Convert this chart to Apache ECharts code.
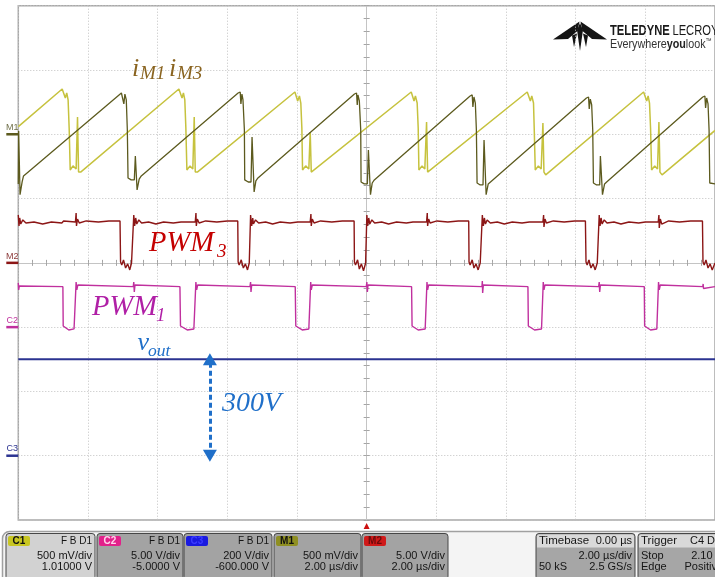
<!DOCTYPE html>
<html>
<head>
<meta charset="utf-8">
<title>Interleaved converter waveforms</title>
<script src="https://cdn.jsdelivr.net/npm/echarts@6/dist/echarts.min.js"></script>
<style>
  html, body { margin: 0; padding: 0; background: #ffffff; }
  #chart { width: 715px; height: 577px; }
</style>
</head>
<body>
<div id="chart"></div>
<script>
// ---- time base: 2 µs/div, 10 divisions, trigger at 0 µs ----
const timeRange = [-10, 10];
const timeDiv = 2;
const divisionsY = 4; // screen spans -4 ... +4 divisions

// ---- channel settings: volts per division, ground position in divisions ----
const chanCurrent = { scale: 0.5, ground: 2 };   // C1 / M1 : 500 mV/div
const chanPwm3 = { scale: 5, ground: 0 };        // M2 : 5 V/div
const chanPwm1 = { scale: 5, ground: -1 };       // C2 : 5 V/div, offset -5 V
const chanVout = { scale: 200, ground: -3 };     // C3 : 200 V/div, offset -600 V

// ---- iM1 current (C1), [µs, V] ----
const iM1 = [
  [-10.0, 0.06],
  [-8.74, 0.352], [-8.70, 0.360], [-8.65, 0.282], [-8.61, 0.321], [-8.57, 0.267], [-8.54, 0.049], [-8.51, -0.278], [-8.43, -0.246], [-8.34, -0.270], [-8.30, 0.135], [-8.27, -0.294], [-8.21, -0.294],
  [-5.39, 0.352], [-5.34, 0.360], [-5.30, 0.282], [-5.26, 0.321], [-5.22, 0.267], [-5.19, 0.049], [-5.16, -0.278], [-5.07, -0.246], [-4.99, -0.270], [-4.95, 0.135], [-4.92, -0.294], [-4.86, -0.294],
  [-2.06, 0.329], [-2.02, 0.337], [-1.98, 0.259], [-1.93, 0.298], [-1.89, 0.243], [-1.86, 0.049], [-1.84, -0.278], [-1.75, -0.246], [-1.66, -0.270], [-1.62, 0.018], [-1.59, -0.294], [-1.54, -0.301],
  [1.28, 0.329], [1.32, 0.337], [1.36, 0.259], [1.40, 0.298], [1.45, 0.243], [1.48, 0.049], [1.50, -0.278], [1.59, -0.246], [1.67, -0.270], [1.72, 0.096], [1.75, -0.294], [1.80, -0.301],
  [4.61, 0.329], [4.66, 0.337], [4.70, 0.259], [4.74, 0.298], [4.79, 0.243], [4.81, 0.049], [4.84, -0.278], [4.93, -0.246], [5.01, -0.270], [5.06, 0.088], [5.09, -0.294], [5.14, -0.316],
  [7.95, 0.329], [8.00, 0.337], [8.04, 0.259], [8.08, 0.298], [8.12, 0.243], [8.15, 0.049], [8.18, -0.278], [8.27, -0.246], [8.35, -0.270], [8.39, 0.096], [8.42, -0.294], [8.48, -0.316],
  [10.0, 0.03]
];

// ---- iM3 current (M1), [µs, V] ----
const iM3 = [
  [-10.0, -0.386], [-9.99, 0.026], [-9.95, -0.470], [-9.89, -0.370], [-9.85, -0.324],
  [-7.04, 0.321], [-6.99, 0.329], [-6.97, 0.236], [-6.94, 0.313], [-6.90, 0.267], [-6.87, 0.033], [-6.85, -0.340], [-6.76, -0.355], [-6.67, -0.355], [-6.64, -0.169], [-6.59, -0.433], [-6.53, -0.348], [-6.47, -0.324],
  [-3.69, 0.321], [-3.63, 0.329], [-3.61, 0.236], [-3.58, 0.313], [-3.55, 0.267], [-3.51, 0.033], [-3.50, -0.355], [-3.40, -0.371], [-3.32, -0.371], [-3.29, -0.021], [-3.23, -0.449], [-3.18, -0.363], [-3.12, -0.340],
  [-0.35, 0.313], [-0.29, 0.321], [-0.27, 0.228], [-0.25, 0.306], [-0.21, 0.259], [-0.17, 0.033], [-0.16, -0.371], [-0.07, -0.386], [0.02, -0.386], [0.05, -0.123], [0.11, -0.470], [0.16, -0.379], [0.22, -0.355],
  [2.97, 0.298], [3.03, 0.306], [3.05, 0.212], [3.08, 0.290], [3.12, 0.243], [3.15, 0.033], [3.17, -0.379], [3.26, -0.394], [3.34, -0.394], [3.37, -0.044], [3.43, -0.470], [3.49, -0.386], [3.54, -0.371],
  [6.31, 0.282], [6.37, 0.290], [6.39, 0.197], [6.42, 0.274], [6.46, 0.228], [6.49, 0.033], [6.51, -0.379], [6.60, -0.394], [6.69, -0.394], [6.71, -0.169], [6.77, -0.470], [6.83, -0.386], [6.89, -0.371],
  [9.65, 0.290], [9.71, 0.298], [9.73, 0.205], [9.76, 0.282], [9.80, 0.236], [9.83, 0.033], [9.85, -0.379], [10.0, -0.386]
];

// ---- PWM3 gate signal (M2), [µs, V] ----
const pwm3 = [
  [-10.0, 3.72], [-9.98, 2.87], [-9.96, 3.49], [-9.93, 3.02], [-9.87, 3.34], [-9.78, 3.10], [-9.55, 3.18], [-9.30, 3.02], [-9.05, 3.18], [-8.75, 3.10], [-8.70, 3.26], [-8.36, 3.18],
  [-8.34, 3.88], [-8.33, 2.87], [-8.30, 3.41], [-8.25, 3.10], [-8.05, 3.26], [-7.70, 3.18], [-7.40, 3.26], [-7.08, 3.26],
  [-7.064, 0.07], [-7.03, -0.16], [-6.98, 0.23], [-6.92, -0.40], [-6.86, -0.08], [-6.80, -0.55], [-6.75, -0.01], [-6.70, 0.07],
  [-6.685, 3.72], [-6.66, 2.87], [-6.63, 3.49], [-6.60, 3.02], [-6.54, 3.34], [-6.46, 3.10], [-6.26, 3.18], [-6.05, 3.02], [-5.83, 3.18], [-5.55, 3.10], [-5.33, 3.18], [-4.92, 3.18],
  [-4.90, 3.88], [-4.89, 2.87], [-4.86, 3.41], [-4.81, 3.10], [-4.62, 3.26], [-4.30, 3.18], [-4.00, 3.26], [-3.70, 3.26],
  [-3.689, 0.07], [-3.66, -0.16], [-3.60, 0.23], [-3.54, -0.40], [-3.48, -0.08], [-3.42, -0.55], [-3.37, -0.01], [-3.34, 0.07],
  [-3.332, 3.72], [-3.30, 2.87], [-3.27, 3.49], [-3.25, 3.02], [-3.19, 3.34], [-3.10, 3.10], [-2.90, 3.18], [-2.70, 3.02], [-2.48, 3.18], [-2.20, 3.10], [-1.98, 3.18], [-1.62, 3.18],
  [-1.60, 3.80], [-1.59, 2.87], [-1.56, 3.41], [-1.51, 3.10], [-1.32, 3.26], [-1.00, 3.18], [-0.70, 3.26], [-0.36, 3.26],
  [-0.351, 0.07], [-0.32, -0.16], [-0.26, 0.23], [-0.21, -0.48], [-0.15, -0.08], [-0.09, -0.62], [-0.03, -0.01], [-0.01, 0.07],
  [0.006, 3.72], [0.03, 2.87], [0.06, 3.49], [0.09, 3.02], [0.15, 3.34], [0.23, 3.10], [0.43, 3.18], [0.63, 3.02], [0.86, 3.18], [1.14, 3.10], [1.33, 3.18], [1.72, 3.18],
  [1.74, 3.88], [1.75, 2.87], [1.78, 3.41], [1.82, 3.10], [2.02, 3.26], [2.33, 3.18], [2.63, 3.26], [2.93, 3.26],
  [2.939, 0.07], [2.97, -0.16], [3.03, 0.23], [3.08, -0.40], [3.14, -0.08], [3.20, -0.55], [3.26, -0.01], [3.30, 0.07],
  [3.321, 3.72], [3.35, 2.87], [3.38, 3.49], [3.41, 3.02], [3.46, 3.34], [3.55, 3.10], [3.75, 3.18], [3.95, 3.02], [4.18, 3.18], [4.46, 3.10], [4.67, 3.18], [5.06, 3.18],
  [5.08, 3.72], [5.09, 2.79], [5.12, 3.41], [5.16, 3.10], [5.36, 3.26], [5.67, 3.18], [5.97, 3.26], [6.28, 3.26],
  [6.297, 0.07], [6.33, -0.16], [6.38, 0.23], [6.44, -0.40], [6.50, -0.08], [6.56, -0.55], [6.62, -0.01], [6.65, 0.07],
  [6.676, 3.72], [6.70, 2.87], [6.73, 3.49], [6.76, 3.02], [6.82, 3.34], [6.90, 3.10], [7.10, 3.18], [7.30, 3.02], [7.53, 3.18], [7.81, 3.10], [8.00, 3.18], [8.37, 3.18],
  [8.39, 3.72], [8.40, 2.71], [8.43, 3.41], [8.47, 3.02], [8.67, 3.26], [8.98, 3.18], [9.30, 3.26], [9.64, 3.26],
  [9.655, 0.07], [9.69, -0.16], [9.74, 0.23], [9.80, -0.40], [9.86, -0.08], [9.92, -0.55], [10.0, -0.01]
];

// ---- PWM1 gate signal (C2), [µs, V] ----
const pwm1 = [
  [-10.0, 3.44], [-9.99, 2.89], [-9.97, 3.20], [-9.93, 3.15],
  [-8.72, 3.15], [-8.711, 0.09], [-8.67, 0.02], [-8.55, -0.22], [-8.40, -0.14], [-8.35, 0.0], [-8.340, 3.51], [-8.32, 2.89], [-8.29, 3.28], [-8.24, 3.15],
  [-6.70, 3.15], [-6.685, 3.51], [-6.67, 2.74], [-6.65, 3.28], [-6.62, 3.15],
  [-5.36, 3.15], [-5.344, 0.09], [-5.30, 0.02], [-5.15, -0.22], [-4.96, -0.14], [-4.91, 0.0], [-4.902, 3.51], [-4.88, 2.89], [-4.85, 3.28], [-4.80, 3.15],
  [-3.35, 3.15], [-3.332, 3.51], [-3.32, 2.74], [-3.30, 3.28], [-3.27, 3.15],
  [-2.05, 3.15], [-2.034, 0.09], [-1.99, 0.02], [-1.85, -0.22], [-1.66, -0.14], [-1.61, 0.0], [-1.606, 3.51], [-1.59, 2.89], [-1.56, 3.28], [-1.51, 3.15],
  [-0.01, 3.15], [0.006, 3.51], [0.02, 2.74], [0.04, 3.28], [0.07, 3.15],
  [1.29, 3.15], [1.304, 0.09], [1.35, 0.02], [1.48, -0.22], [1.68, -0.14], [1.72, 0.0], [1.732, 3.51], [1.75, 2.89], [1.78, 3.28], [1.83, 3.15],
  [3.31, 3.15], [3.321, 3.59], [3.33, 2.66], [3.35, 3.28], [3.38, 3.15],
  [4.63, 3.15], [4.642, 0.09], [4.69, 0.02], [4.82, -0.22], [5.02, -0.14], [5.06, 0.0], [5.070, 3.51], [5.09, 2.89], [5.12, 3.28], [5.17, 3.15],
  [6.66, 3.15], [6.676, 3.51], [6.69, 2.74], [6.71, 3.28], [6.74, 3.15],
  [7.97, 3.15], [7.980, 0.09], [8.03, 0.02], [8.15, -0.22], [8.33, -0.14], [8.37, 0.0], [8.379, 3.51], [8.40, 2.89], [8.43, 3.28], [8.48, 3.15],
  [9.65, 3.15], [9.66, 3.36], [9.67, 3.00], [9.70, 3.15], [10.0, 3.15]
];

// ---- output voltage (C3), [µs, V] ----
const voutLevel = 300;
const vout = [[-10.0, 300], [10.0, 300]];
const arrowTime = -4.5; // where the 0 V → vout span is marked

// ---- colours ----
const colLight = '#c6c23e';
const colDark = '#5c5a1e';
const colPwm3 = '#8c1616';
const colPwm1 = '#c0309e';
const colVout = '#2b3391';

function chanAxis(ch) {
  return {
    type: 'value', show: false,
    min: (-divisionsY - ch.ground) * ch.scale,
    max: (divisionsY - ch.ground) * ch.scale,
    axisLine: { onZero: false }
  };
}

const centreLine = { show: true, onZero: true, onZeroAxisIndex: 0, lineStyle: { color: '#c4c4c4', width: 1 } };
const centreTick = { show: true, length: 3, inside: false, lineStyle: { color: '#a4a4a4', width: 1 } };
const centreMinor = { show: true, splitNumber: 5, length: 3, lineStyle: { color: '#a4a4a4', width: 1 } };
const gridDots = { show: true, lineStyle: { color: '#c0c0c0', width: 1, type: [1, 2] } };

function trace(name, data, yIdx, color, width, extra) {
  return Object.assign({
    name, type: 'line', data, xAxisIndex: 0, yAxisIndex: yIdx,
    showSymbol: false, symbol: 'none', silent: true, animation: false, clip: true,
    lineStyle: { color, width }, itemStyle: { color }
  }, extra || {});
}

function groundMarker(label, color, textColor) {
  return {
    silent: true, animation: false,
    symbol: 'rect', symbolSize: [12, 2.5], symbolOffset: [-6, 0],
    itemStyle: { color },
    label: { show: true, position: 'top', distance: 1, formatter: label, color: textColor, fontSize: 9, fontFamily: 'Liberation Sans' },
    data: [{ coord: [timeRange[0], 0] }]
  };
}

// ---- annotation text ----
const serif = '"Liberation Serif", "DejaVu Serif", serif';
function note(x, y, text, size, color) {
  return { type: 'text', x, y, z: 50, silent: true,
    style: { text, fill: color, font: `italic ${size}px ${serif}`, verticalAlign: 'middle', textVerticalAlign: 'middle' } };
}
const colNoteI = '#8a6420', colNote3 = '#c40000', colNote1 = '#b01fa6', colNoteV = '#1f6fc9';
const notes = [
  note(132, 69, 'i', 26, colNoteI), note(140, 74, 'M1', 19, colNoteI),
  note(169, 69, 'i', 26, colNoteI), note(177, 74, 'M3', 19, colNoteI),
  note(149, 243.5, 'PWM', 28.5, colNote3), note(217, 251.5, '3', 19, colNote3),
  note(92, 307.5, 'PWM', 28.5, colNote1), note(156, 315.5, '1', 19, colNote1),
  note(137.5, 343, 'v', 26, colNoteV), note(148, 351, 'out', 17.5, colNoteV),
  note(222, 403.5, voutLevel + 'V', 28, colNoteV)
];

// ---- maker logo ----
const logo = [
  { type: 'polygon', shape: { points: [[579.5, 21.5], [553, 39.5], [568, 39], [577.5, 31]] }, style: { fill: '#141414' } },
  { type: 'polygon', shape: { points: [[580.5, 21.5], [607, 39.5], [592, 39], [582.5, 31]] }, style: { fill: '#141414' } },
  { type: 'polygon', shape: { points: [[580, 23], [577, 30], [580, 51], [583, 30]] }, style: { fill: '#141414' } },
  { type: 'polygon', shape: { points: [[572, 35.5], [574, 47], [577, 33.5]] }, style: { fill: '#141414' } },
  { type: 'polygon', shape: { points: [[588, 35.5], [586, 47], [583, 33.5]] }, style: { fill: '#141414' } },
  { type: 'text', x: 610, y: 31, scaleX: 0.8, silent: true,
    style: { text: '{b|TELEDYNE} {n|LECROY}', verticalAlign: 'middle', textVerticalAlign: 'middle',
      rich: { b: { font: 'bold 14px "Liberation Sans", Arial, sans-serif', fill: '#1a1a1a', color: '#1a1a1a' },
              n: { font: '14px "Liberation Sans", Arial, sans-serif', fill: '#1a1a1a', color: '#1a1a1a' } } } },
  { type: 'text', x: 610, y: 44.5, scaleX: 0.86, silent: true,
    style: { text: '{n|Everywhere}{b|you}{n|look}{t|™}', verticalAlign: 'middle', textVerticalAlign: 'middle',
      rich: { n: { font: '12.5px "Liberation Sans", Arial, sans-serif', fill: '#333', color: '#333' },
              b: { font: 'bold 12.5px "Liberation Sans", Arial, sans-serif', fill: '#222', color: '#222' },
              t: { font: '7px "Liberation Sans", Arial, sans-serif', fill: '#333', color: '#333', verticalAlign: 'top' } } } }
];

// ---- channel / timebase readout panel ----
const panelFont = '"Liberation Sans", Arial, sans-serif';
const panelTop = 533.5, panelH = 46;
function ptext(x, y, text, align, size, weight, color) {
  return { type: 'text', x, y, silent: true,
    style: { text, fill: color || '#151515', font: `${weight || 'normal'} ${size || 11}px ${panelFont}`,
      align: align, textAlign: align, verticalAlign: 'middle', textVerticalAlign: 'middle' } };
}
function panelBox(b) {
  const els = [];
  const right = b.x + b.w - 3;
  els.push({ type: 'rect', silent: true, shape: { x: b.x, y: panelTop, width: b.w, height: panelH, r: 3 },
    style: { fill: b.fill, stroke: '#474747', lineWidth: 1 } });
  if (b.header) {
    els.push({ type: 'rect', silent: true, shape: { x: b.x + 1, y: panelTop + 1, width: b.w - 2, height: 13, r: [2, 2, 0, 0] },
      style: { fill: '#d9d9d9' } });
  }
  if (b.tag) {
    els.push({ type: 'rect', silent: true, shape: { x: b.x + 2, y: 536, width: 22, height: 10, r: 2 }, style: { fill: b.tagColor } });
    els.push(ptext(b.x + 13, 541.2, b.tag, 'center', 10, 'bold', b.tagText));
  }
  if (b.title) els.push(ptext(b.x + 3, 541, b.title, 'left', 11.5));
  if (b.headRight) els.push(ptext(right, 541, b.headRight, 'right', b.title ? 11 : 10));
  if (b.left1) els.push(ptext(b.x + 3, 555.5, b.left1, 'left'));
  if (b.line1) els.push(ptext(right, 555.5, b.line1, 'right'));
  if (b.left2) els.push(ptext(b.x + 3, 566.5, b.left2, 'left'));
  if (b.line2) els.push(ptext(right, 566.5, b.line2, 'right'));
  return els;
}
const panel = [
  { type: 'rect', silent: true, shape: { x: 2.5, y: 531.5, width: 740, height: 60, r: 7 },
    style: { fill: '#f4f4f4', stroke: '#a0a0a0', lineWidth: 1.5 } },
  ...panelBox({ x: 6, w: 89, fill: '#d2d2d2', tag: 'C1', tagColor: '#c8c622', tagText: '#111', headRight: 'F B D1', line1: '500 mV/div', line2: '1.01000 V' }),
  ...panelBox({ x: 97, w: 86, fill: '#a3a3a3', tag: 'C2', tagColor: '#e2208a', tagText: '#ffd6ec', headRight: 'F B D1', line1: '5.00 V/div', line2: '-5.0000 V' }),
  ...panelBox({ x: 184, w: 88, fill: '#a3a3a3', tag: 'C3', tagColor: '#1a1ae0', tagText: '#3c3cff', headRight: 'F B D1', line1: '200 V/div', line2: '-600.000 V' }),
  ...panelBox({ x: 274, w: 87, fill: '#a3a3a3', tag: 'M1', tagColor: '#8f8f22', tagText: '#111', line1: '500 mV/div', line2: '2.00 µs/div' }),
  ...panelBox({ x: 362, w: 86, fill: '#a3a3a3', tag: 'M2', tagColor: '#d01a1a', tagText: '#6a0c0c', line1: '5.00 V/div', line2: '2.00 µs/div' }),
  ...panelBox({ x: 536, w: 99, fill: '#a6a6a6', header: true, title: 'Timebase', headRight: '0.00 µs', line1: '2.00 µs/div', left2: '50 kS', line2: '2.5 GS/s' }),
  ...panelBox({ x: 638, w: 88, fill: '#a6a6a6', header: true, title: 'Trigger', headRight: 'C4 DC', left1: 'Stop', line1: '2.10 V', left2: 'Edge', line2: 'Positive' })
];

const chart = echarts.init(document.getElementById('chart'), null, { renderer: 'canvas' });
chart.setOption({
  animation: false,
  backgroundColor: '#ffffff',
  grid: { left: 18.3, top: 5.7, width: 701, height: 514.3, show: true, borderColor: '#a8a8a8', borderWidth: 1.5, backgroundColor: '#ffffff' },
  xAxis: [
    { type: 'value', min: timeRange[0], max: timeRange[1], interval: timeDiv, position: 'bottom',
      axisLine: centreLine, axisTick: centreTick, minorTick: centreMinor, axisLabel: { show: false }, splitLine: gridDots },
    { type: 'value', min: timeRange[0], max: timeRange[1], interval: timeDiv, position: 'top',
      axisLine: centreLine, axisTick: centreTick, minorTick: centreMinor, axisLabel: { show: false }, splitLine: { show: false } }
  ],
  yAxis: [
    { type: 'value', min: -divisionsY, max: divisionsY, interval: 1, position: 'left',
      axisLine: centreLine, axisTick: centreTick, minorTick: centreMinor, axisLabel: { show: false }, splitLine: gridDots },
    { type: 'value', min: -divisionsY, max: divisionsY, interval: 1, position: 'right',
      axisLine: centreLine, axisTick: centreTick, minorTick: centreMinor, axisLabel: { show: false }, splitLine: { show: false } },
    chanAxis(chanCurrent),
    chanAxis(chanPwm3),
    chanAxis(chanPwm1),
    chanAxis(chanVout)
  ],
  series: [
    trace('iM1', iM1, 2, colLight, 1.5),
    trace('iM3', iM3, 2, colDark, 1.3, { markPoint: groundMarker('M1', colDark, '#70704a') }),
    trace('PWM3', pwm3, 3, colPwm3, 1.4, { markPoint: groundMarker('M2', colPwm3, '#8c3a3a') }),
    trace('PWM1', pwm1, 4, colPwm1, 1.4, { markPoint: groundMarker('C2', colPwm1, '#c0309e') }),
    trace('vout', vout, 5, colVout, 2, {
      markPoint: {
        silent: true, animation: false,
        data: [
          { coord: [timeRange[0], 0], symbol: 'rect', symbolSize: [12, 2.5], symbolOffset: [-6, 0], itemStyle: { color: colVout },
            label: { show: true, position: 'top', distance: 1, formatter: 'C3', color: colVout, fontSize: 9, fontFamily: 'Liberation Sans' } },
          { coord: [0, chanAxis(chanVout).min], symbol: 'triangle', symbolSize: [6, 6], symbolOffset: [0, 6], itemStyle: { color: '#cc1010' }, label: { show: false } }
        ]
      },
      markLine: {
        silent: true, animation: false,
        symbol: ['triangle', 'triangle'], symbolSize: [14, 12],
        label: { show: false },
        lineStyle: { color: colNoteV, width: 3, type: [5, 3] },
        data: [[{ coord: [arrowTime, 0] }, { coord: [arrowTime, voutLevel] }]]
      }
    })
  ],
  graphic: [...logo, ...notes, ...panel]
});
</script>
</body>
</html>
